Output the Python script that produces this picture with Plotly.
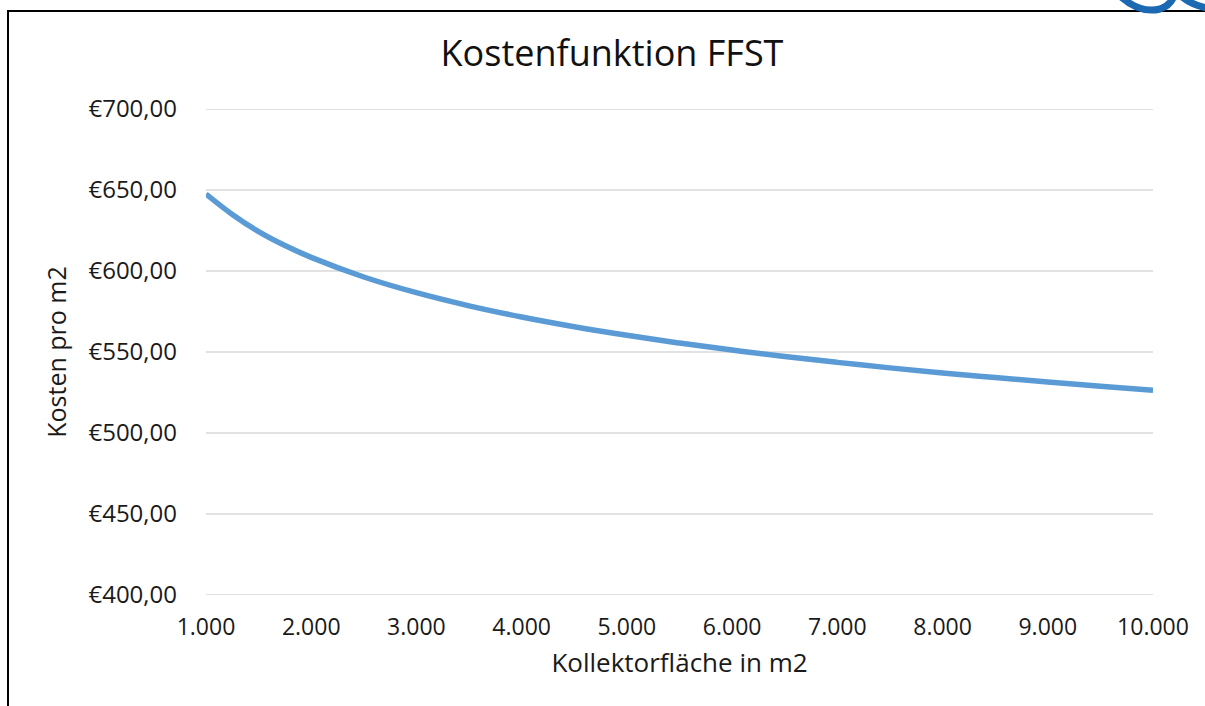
import plotly.graph_objects as go

# Kollektorfläche (m2) and cost per m2 (EUR)
flaeche = [1000, 1250, 1500, 1750, 2000, 2500, 3000, 3500, 4000, 4500, 5000,
           5500, 6000, 6500, 7000, 7500, 8000, 8500, 9000, 9500, 10000]
kosten = [647.5, 634.9, 624.3, 615.7, 608.4, 596.3, 586.6, 578.5, 571.6, 565.6, 560.3,
          555.5, 551.2, 547.2, 543.6, 540.2, 537.1, 534.2, 531.5, 528.9, 526.4]

y_ticks = [400, 450, 500, 550, 600, 650, 700]
y_labels = ["€400,00", "€450,00", "€500,00", "€550,00", "€600,00", "€650,00", "€700,00"]
x_ticks = [1000, 2000, 3000, 4000, 5000, 6000, 7000, 8000, 9000, 10000]
x_labels = ["1.000", "2.000", "3.000", "4.000", "5.000",
            "6.000", "7.000", "8.000", "9.000", "10.000"]

W, H = 1205, 706
L, R, T, B = 206, 52, 109, 111
FONT = "Open Sans"
TEXT = "#1a1a1a"


def px(x):
    return (x - L) / (W - L - R)


def py(y):
    return (H - B - y) / (H - T - B)


fig = go.Figure()
fig.add_trace(go.Scatter(
    x=flaeche, y=kosten, mode="lines",
    line=dict(color="#5B9BD5", width=5.5, shape="spline"),
    hoverinfo="skip", showlegend=False,
))

# horizontal gridlines, including the ones on the range edges
shapes = [
    dict(type="line", xref="paper", yref="y", x0=0, x1=1, y0=v, y1=v,
         line=dict(color="#D9D9D9", width=1.5), layer="below")
    for v in y_ticks
]

shapes += [
    # outer frame (left and top edges)
    dict(type="path", xref="paper", yref="paper",
         path=f"M {px(8)} {py(712)} L {px(8)} {py(11)} L {px(1210)} {py(11)}",
         line=dict(color="black", width=2)),
    # logo fragment at the top right
    dict(type="path", xref="paper", yref="paper",
         path=(f"M {px(1120)} {py(-4)} Q {px(1140)} {py(14)} {px(1160)} {py(9)}"
               f" Q {px(1170)} {py(6)} {px(1174)} {py(-4)}"),
         line=dict(color="#1C69B3", width=7)),
    dict(type="path", xref="paper", yref="paper",
         path=f"M {px(1181)} {py(-4)} Q {px(1190)} {py(4)} {px(1206)} {py(8)}",
         line=dict(color="#1C69B3", width=7)),
]

fig.update_layout(
    width=W, height=H,
    margin=dict(l=L, r=R, t=T, b=B),
    paper_bgcolor="white", plot_bgcolor="white",
    font=dict(family=FONT, size=23, color=TEXT),
    title=dict(text="Kostenfunktion FFST", x=612 / W, xanchor="center",
               y=1 - 53 / H, yanchor="middle",
               font=dict(family=FONT, size=36, color="#111111")),
    xaxis=dict(range=[1000, 10000], tickvals=x_ticks, ticktext=x_labels,
               showgrid=False, zeroline=False, showline=False, ticks="",
               ticklabelstandoff=16,
               title=dict(text="Kollektorfläche in m2", standoff=12,
                          font=dict(family=FONT, size=26, color=TEXT))),
    yaxis=dict(range=[400, 700], tickvals=y_ticks, ticktext=y_labels,
               showgrid=False, zeroline=False, showline=False, ticks="",
               ticklabelstandoff=28, tickfont=dict(size=24),
               title=dict(text="Kosten pro m2", standoff=14,
                          font=dict(family=FONT, size=25, color=TEXT))),
    shapes=shapes,
)

fig.write_html("out.html")
